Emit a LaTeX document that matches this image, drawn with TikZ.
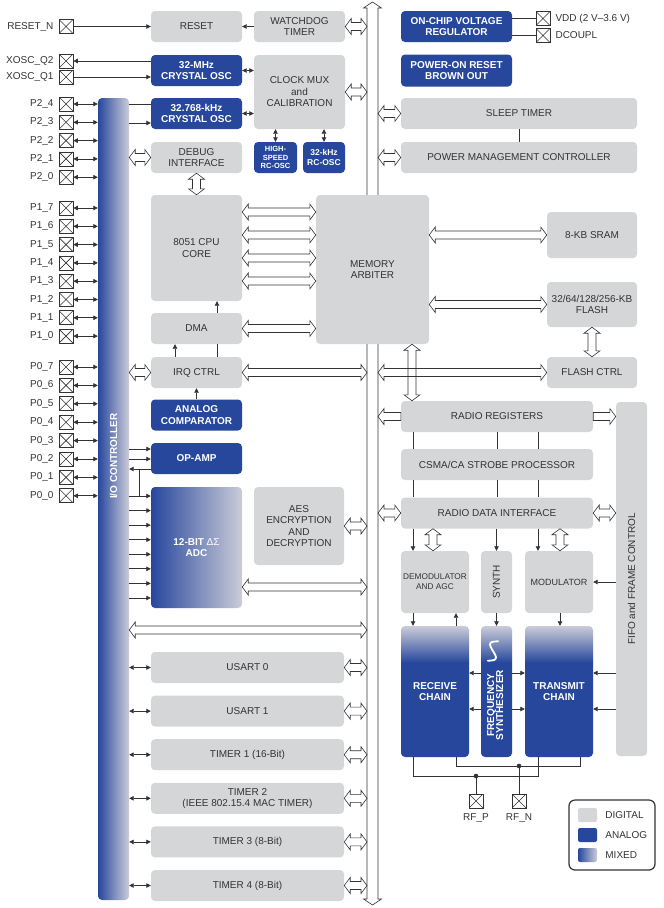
\documentclass[tikz,border=0pt]{standalone}
\usepackage{fontspec}
\setmainfont{Liberation Sans}
\usepackage{graphicx}
\usetikzlibrary{arrows.meta, calc}

\definecolor{dblue}{HTML}{27479D}
\definecolor{lgrey}{HTML}{D5D6D8}
\definecolor{mixl}{HTML}{CBCCD8}
\definecolor{ink}{HTML}{333333}
\pgfdeclareverticalshading{rfmix}{100bp}{color(0bp)=(dblue); color(25bp)=(dblue); color(61bp)=(dblue); color(75bp)=(mixl); color(100bp)=(mixl)}

% hollow bus arrows between two anchors
\newcommand{\fatboth}[2]{%
  \draw[fat] let \p1=#1, \p2=#2 in
    (\x1,\y1) -- (\x1+6pt,\y1+8pt) -- (\x1+6pt,\y1+4pt) -- (\x2-6pt,\y1+4pt)
    -- (\x2-6pt,\y1+8pt) -- (\x2,\y1) -- (\x2-6pt,\y1-8pt) -- (\x2-6pt,\y1-4pt)
    -- (\x1+6pt,\y1-4pt) -- (\x1+6pt,\y1-8pt) -- cycle;}
\newcommand{\fatleft}[2]{%
  \draw[fat] let \p1=#1, \p2=#2 in
    (\x1,\y1) -- (\x1+6pt,\y1+8pt) -- (\x1+6pt,\y1+4pt) -- (\x2,\y1+4pt)
    -- (\x2,\y1-4pt) -- (\x1+6pt,\y1-4pt) -- (\x1+6pt,\y1-8pt) -- cycle;}
\newcommand{\fatright}[2]{%
  \draw[fat] let \p1=#1, \p2=#2 in
    (\x1,\y1+4pt) -- (\x2-6pt,\y1+4pt) -- (\x2-6pt,\y1+8pt) -- (\x2,\y1)
    -- (\x2-6pt,\y1-8pt) -- (\x2-6pt,\y1-4pt) -- (\x1,\y1-4pt) -- cycle;}
\newcommand{\fatvert}[2]{%
  \draw[fat] let \p1=#1, \p2=#2 in
    (\x1,\y1) -- (\x1+8pt,\y1-6pt) -- (\x1+4pt,\y1-6pt) -- (\x1+4pt,\y2+6pt)
    -- (\x1+8pt,\y2+6pt) -- (\x1,\y2) -- (\x1-8pt,\y2+6pt) -- (\x1-4pt,\y2+6pt)
    -- (\x1-4pt,\y1-6pt) -- (\x1-8pt,\y1-6pt) -- cycle;}

\begin{document}
\begin{tikzpicture}[x=1pt, y=-1pt,
  blk/.style={rounded corners=4pt, align=center, inner sep=0pt, text=ink, font=\fontsize{10}{11.5}\selectfont},
  dig/.style={blk, fill=lgrey},
  ana/.style={blk, fill=dblue, text=white, font=\fontsize{10}{11.5}\selectfont\bfseries},
  mixh/.style={blk, left color=dblue, right color=mixl, text=white, font=\fontsize{10}{11.5}\selectfont\bfseries},
  mixv/.style={blk, shading=rfmix, text=white, font=\fontsize{10}{11.5}\selectfont\bfseries},
  sz/.style 2 args={minimum width=#1pt, minimum height=#2pt},
  pin/.style={draw=ink, line width=0.7pt, fill=white, minimum size=14pt, inner sep=0pt,
    path picture={\draw[ink, line width=0.6pt]
      (path picture bounding box.north west) -- (path picture bounding box.south east)
      (path picture bounding box.north east) -- (path picture bounding box.south west);}},
  plab/.style={font=\fontsize{10}{12}\selectfont, text=ink, inner sep=1pt},
  wire/.style={draw=ink, line width=0.8pt},
  sig/.style={wire, -{Triangle[length=4.5pt, width=4.5pt]}},
  bsig/.style={wire, {Triangle[length=4.5pt, width=4.5pt]}-{Triangle[length=4.5pt, width=4.5pt]}},
  fat/.style={draw=ink, line width=0.6pt, line join=miter}
]
\useasboundingbox (0,0) rectangle (664,908);

% main bus
\draw[fat] (372.5,2) -- (381.5,8) -- (378,8) -- (378,899) -- (381.5,899) -- (372.5,905)
  -- (363.5,899) -- (367,899) -- (367,8) -- (363.5,8) -- cycle;
\coordinate (busL) at (367,0);
\coordinate (busR) at (378,0);

% left column
\node[dig, sz={91}{31}] (reset) at (196.5,26.5) {RESET};
\node[ana, sz={91}{31}] (xosc) at (196.5,70.5) {32-MHz\\CRYSTAL OSC};
\node[ana, sz={91}{31}] (rosc) at (196.5,113.5) {32.768-kHz\\CRYSTAL OSC};
\node[dig, sz={91}{31}] (dbg) at (196.5,157.5) {DEBUG\\INTERFACE};
\node[dig, sz={91}{106}] (cpu) at (196.5,248) {8051 CPU\\CORE};
\node[dig, sz={91}{31}] (dma) at (196.5,328.5) {DMA};
\node[dig, sz={91}{31}] (irq) at (196.5,372.5) {IRQ CTRL};
\node[ana, sz={91}{31}] (acomp) at (196.5,415) {ANALOG\\COMPARATOR};
\node[ana, sz={91}{31}] (opamp) at (196.5,458.5) {OP-AMP};
\node[mixh, sz={91}{121}] (adc) at (196.5,547.5) {12-BIT {\mdseries ΔΣ}\\ADC};

% middle column
\node[dig, sz={91}{31}] (wdt) at (299.5,26.5) {WATCHDOG\\TIMER};
\node[dig, sz={91}{74}] (cmux) at (299.5,92) {CLOCK MUX\\and\\CALIBRATION};
\node[ana, sz={43}{31}, font=\fontsize{7.5}{8.3}\selectfont\bfseries] (hsrc) at (275.5,157.5) {HIGH-\\SPEED\\RC-OSC};
\node[ana, sz={42}{31}, font=\fontsize{8.5}{9.5}\selectfont\bfseries] (lfrc) at (324,157.5) {32-kHz\\RC-OSC};
\node[dig, sz={90}{78}] (aes) at (299,526) {AES\\ENCRYPTION\\AND\\DECRYPTION};
\node[dig, sz={113}{149}] (arb) at (372.5,269.5) {MEMORY\\ARBITER};

% peripherals
\foreach \nm/\txt [count=\i from 0] in {usa/USART 0, usb/USART 1, tma/TIMER 1 (16-Bit),
    tmb/{TIMER 2\\(IEEE 802.15.4 MAC TIMER)}, tmc/TIMER 3 (8-Bit), tmd/TIMER 4 (8-Bit)}
  \node[dig, sz={193}{31}] (\nm) at (247.5,{667.5+43.6*\i}) {\txt};

% I/O controller
\node[mixh, sz={31}{802}] (io) at (113.5,499) {};
\node[text=white, font=\fontsize{10}{12}\selectfont\bfseries] (iotxt) at (113.5,456) {\rotatebox{90}{I/O CONTROLLER}};

% right side
\node[ana, sz={111}{31}] (vreg) at (456.5,26.5) {ON-CHIP VOLTAGE\\REGULATOR};
\node[ana, sz={111}{32}] (por) at (456.5,70.5) {POWER-ON RESET\\BROWN OUT};
\node[dig, sz={236}{31}] (sleep) at (519,113.5) {SLEEP TIMER};
\node[dig, sz={236}{31}] (pmc) at (519,157.5) {POWER MANAGEMENT CONTROLLER};
\node[dig, sz={90}{46}] (sram) at (592,235) {8-KB SRAM};
\node[dig, sz={90}{45}] (flash) at (592,304.5) {32/64/128/256-KB\\FLASH};
\node[dig, sz={90}{31}] (fctrl) at (592,372.5) {FLASH CTRL};

% radio
\node[dig, sz={192}{31}] (rreg) at (497,416.5) {RADIO REGISTERS};
\node[dig, sz={192}{31}] (csma) at (497,464.5) {CSMA/CA STROBE PROCESSOR};
\node[dig, sz={192}{31}] (rdi) at (497,513) {RADIO DATA INTERFACE};
\node[dig, sz={31}{354}] (fifo) at (631.5,579) {\rotatebox{90}{FIFO and FRAME CONTROL}};
\node[dig, sz={68}{62}, font=\fontsize{8.3}{9.8}\selectfont] (demod) at (435,582) {DEMODULATOR\\AND AGC};
\node[dig, sz={31}{62}] (synth) at (496.5,582) {\rotatebox{90}{SYNTH}};
\node[dig, sz={68}{62}, font=\fontsize{9}{10}\selectfont] (mod) at (559,582) {MODULATOR};
\node[mixv, sz={68}{131}] (rx) at (435,691.5) {RECEIVE\\CHAIN};
\node[mixv, sz={31}{131}] (fs) at (496.5,691.5) {};
\node[mixv, sz={68}{131}] (tx) at (559,691.5) {TRANSMIT\\CHAIN};
\node[text=white, font=\fontsize{10}{11}\selectfont\bfseries, inner sep=0pt] (fstxt) at (496.5,705)
  {\rotatebox{90}{\begin{tabular}{@{}c@{}}FREQUENCY\\[-2pt]SYNTHESIZER\end{tabular}}};
\draw[white, line width=1.8pt, line cap=round, shift={(493,651)}, rotate=62]
  (-11,0) sin (-5.5,6) cos (0,0) sin (5.5,-6) cos (11,0);

% pins
\node[pin, label={[plab, label distance=4pt]left:RESET\_N}] (rstn) at (66,26.5) {};
\node[pin, label={[plab, label distance=4pt]left:XOSC\_Q2}] (xq2) at (66,61) {};
\node[pin, label={[plab, label distance=4pt]left:XOSC\_Q1}] (xq1) at (66,77) {};
\foreach \n [count=\i from 0] in {4,3,2,1,0} {
  \node[pin, label={[plab, label distance=4pt]left:P2\_\n}] (ptwo\n) at (66,{104+18.3*\i}) {};
  \draw[bsig] (ptwo\n.east) -- (io.west |- ptwo\n.east);
}
\foreach \n [count=\i from 0] in {7,6,5,4,3,2,1,0} {
  \node[pin, label={[plab, label distance=4pt]left:P1\_\n}] (pone\n) at (66,{208+18.3*\i}) {};
  \draw[bsig] (pone\n.east) -- (io.west |- pone\n.east);
  \node[pin, label={[plab, label distance=4pt]left:P0\_\n}] (pzero\n) at (66,{367+18.4*\i}) {};
  \draw[bsig] (pzero\n.east) -- (io.west |- pzero\n.east);
}
\node[pin, label={[plab, label distance=4pt]right:VDD (2 V–3.6 V)}] (vdd) at (543,18.5) {};
\node[pin, label={[plab, label distance=4pt]right:DCOUPL}] (dcpl) at (543,35.5) {};
\node[pin, label={[plab, label distance=4pt]below:RF\_P}] (rfp) at (476,801) {};
\node[pin, label={[plab, label distance=4pt]below:RF\_N}] (rfn) at (519,801) {};

% clock and reset signals
\draw[sig] (rstn.east) -- (reset.west);
\draw[sig] (xosc.west |- xq2.east) -- (xq2.east);
\draw[sig] (xq1.east) -- (xosc.west |- xq1.east);
\draw[sig] (wdt.west) -- (reset.east);
\draw[bsig] (xosc.east) -- (cmux.west |- xosc.east);
\draw[bsig] (rosc.east) -- (cmux.west |- rosc.east);
\draw[bsig] (cmux.south -| hsrc.north) -- (hsrc.north);
\draw[bsig] (cmux.south -| lfrc.north) -- (lfrc.north);
\draw[wire] (io.east |- 0,104) -- (rosc.west |- 0,104);
\draw[sig] (io.east |- 0,123) -- (rosc.west |- 0,123);

% cpu side
\draw[sig] (irq.north -| 175,0) -- (dma.south -| 175,0);
\draw[wire] (irq.north -| 217,0) -- (dma.south -| 217,0);
\draw[sig] (dma.north -| 217,0) -- (cpu.south -| 217,0);
\draw[sig] (acomp.north) -- (irq.south);
\draw[sig] (io.east |- 0,449) -- (opamp.west |- 0,449);
\draw[sig] (io.east |- 0,459) -- (opamp.west |- 0,459);
\draw[sig] (opamp.west |- 0,469) -- (io.east |- 0,469);
\draw[wire] (139,469) -- (139,496);
\foreach \k in {0,...,7} {
  \pgfmathsetmacro\yy{496+14.57*\k}
  \draw[sig] (io.east |- 0,\yy) -- (adc.west |- 0,\yy);
}
\foreach \nm in {usa,usb,tma,tmb,tmc,tmd} {
  \draw[bsig] (io.east |- \nm.west) -- (\nm.west);
  \fatboth{(\nm.east)}{(busL |- \nm.east)}
}

% power
\draw[wire] (vreg.east |- vdd.west) -- (vdd.west);
\draw[wire] (vreg.east |- dcpl.west) -- (dcpl.west);
\draw[wire] (sleep.south) -- (pmc.north);

% bus arrows
\fatboth{(wdt.east)}{(busL |- wdt.east)}
\fatboth{(cmux.east)}{(busL |- cmux.east)}
\fatboth{(busR |- sleep.west)}{(sleep.west)}
\fatboth{(busR |- pmc.west)}{(pmc.west)}
\fatboth{(io.east |- dbg.west)}{(dbg.west)}
\fatvert{(dbg.south)}{(cpu.north)}
\foreach \yy in {212,235,258,281} {
  \fatboth{(cpu.east |- 0,\yy)}{(arb.west |- 0,\yy)}
}
\fatboth{(dma.east)}{(arb.west |- dma.east)}
\fatboth{(io.east |- irq.west)}{(irq.west)}
\fatboth{(irq.east)}{(busL |- irq.east)}
\fatboth{(busR |- fctrl.west)}{(fctrl.west)}
\fatvert{(arb.south -| 412,0)}{(rreg.north -| 412,0)}
\fatboth{(arb.east |- sram.west)}{(sram.west)}
\fatboth{(arb.east |- flash.west)}{(flash.west)}
\fatvert{(flash.south)}{(fctrl.north)}
\fatleft{(busR |- rreg.west)}{(rreg.west)}
\fatright{(rreg.east)}{(fifo.west |- rreg.east)}
\fatboth{(busR |- rdi.west)}{(rdi.west)}
\fatboth{(rdi.east)}{(fifo.west |- rdi.east)}
\fatboth{(aes.east)}{(busL |- aes.east)}
\fatboth{(adc.east |- 0,587)}{(busL |- 0,587)}
\fatboth{(io.east |- 0,630)}{(busL |- 0,630)}

% radio signals
\foreach \xx in {413,497,538} {
  \draw[wire] (rreg.south -| \xx,0) -- (csma.north -| \xx,0);
  \draw[wire] (csma.south -| \xx,0) -- (rdi.north -| \xx,0);
}
\draw[sig] (rdi.south -| 413,0) -- (demod.north -| 413,0);
\draw[sig] (rdi.south -| synth.north) -- (synth.north);
\draw[sig] (rdi.south -| 538,0) -- (mod.north -| 538,0);
\fatvert{(rdi.south -| 433,0)}{(demod.north -| 433,0)}
\fatvert{(rdi.south -| 560,0)}{(mod.north -| 560,0)}
\draw[sig] (fifo.west |- mod.east) -- (mod.east);
\draw[sig] (demod.south -| 413,0) -- (rx.north -| 413,0);
\draw[sig] (rx.north -| 456,0) -- (demod.south -| 456,0);
\draw[sig] (synth.south) -- (fs.north);
\draw[sig] (mod.south -| 560,0) -- (tx.north -| 560,0);
\foreach \yy in {673,709} {
  \draw[sig] (fs.west |- 0,\yy) -- (rx.east |- 0,\yy);
  \draw[sig] (fs.east |- 0,\yy) -- (tx.west |- 0,\yy);
  \draw[sig] (fifo.west |- 0,\yy) -- (tx.east |- 0,\yy);
}

% RF outputs
\coordinate (jp) at (476,776);
\coordinate (jn) at (519,766);
\draw[wire] (rx.south -| 413,0) |- (538,776) -- (tx.south -| 538,0);
\draw[wire] (rx.south -| 456,0) |- (580,766) -- (tx.south -| 580,0);
\draw[wire] (jp) -- (rfp.north);
\draw[wire] (jn) -- (rfn.north);
\fill[ink] (jp) circle (2.3pt);
\fill[ink] (jn) circle (2.3pt);

% legend
\node[draw=ink, line width=1.2pt, rounded corners=6pt, sz={86}{70}] (legend) at (612,835) {};
\node[dig, sz={19}{14}, rounded corners=2pt, label={[plab, label distance=7pt]right:DIGITAL}] (lgdig) at (587.5,815) {};
\node[ana, sz={19}{14}, rounded corners=2pt, label={[plab, label distance=7pt]right:ANALOG}] (lgana) at (587.5,835) {};
\node[mixh, sz={19}{14}, rounded corners=2pt, label={[plab, label distance=7pt]right:MIXED}] (lgmix) at (587.5,855) {};
\end{tikzpicture}
\end{document}
